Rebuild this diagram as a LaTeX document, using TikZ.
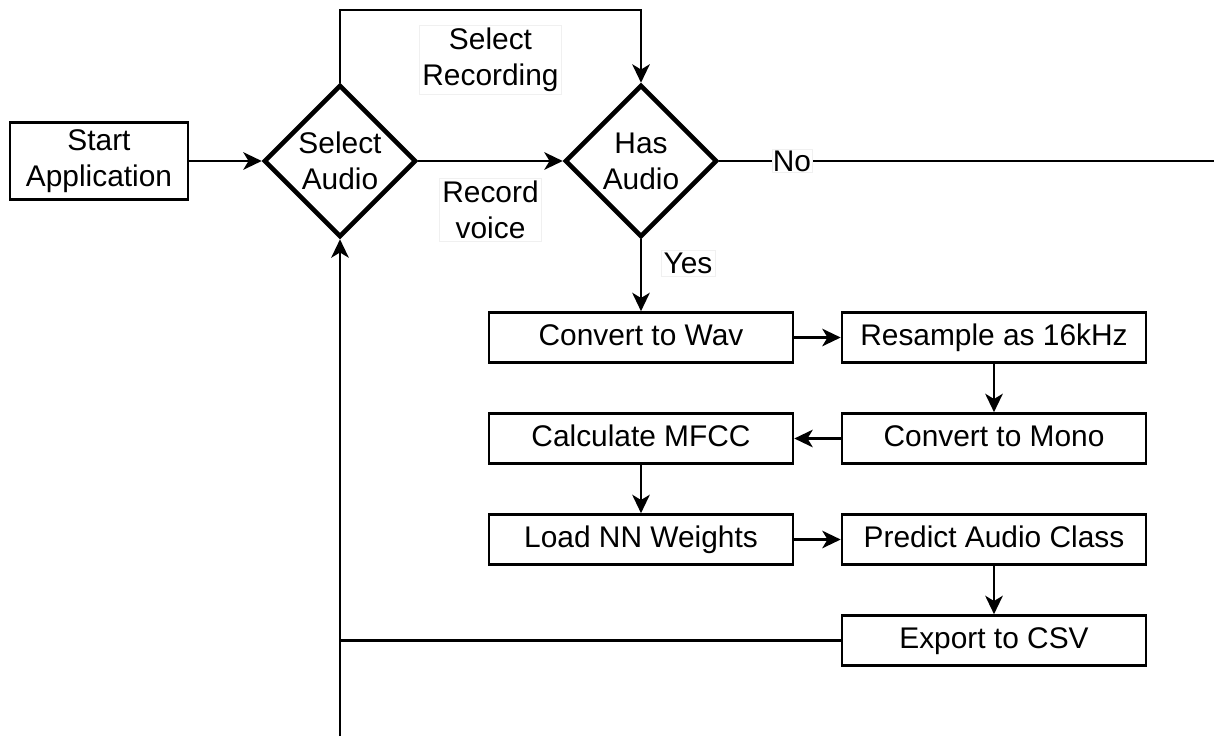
\documentclass[tikz,border=0pt]{standalone}
\usepackage{fontspec}
\setmainfont{Liberation Sans}
\usetikzlibrary{shapes.geometric,positioning,arrows.meta}

\begin{document}
\begin{tikzpicture}[>={Stealth[length=10.5pt,width=10pt,inset=3pt]}, node distance=2.02cm, on grid,
    font=\fontsize{17}{20.4}\selectfont,
    box/.style={draw, line width=1.5pt, minimum width=6.08cm, minimum height=1cm, inner sep=0pt,
      text height=12.2pt, text depth=3.4pt},
    startbox/.style={draw, line width=1.5pt, minimum width=3.56cm, minimum height=1.54cm, inner sep=0pt, align=center},
    decision/.style={diamond, draw, line width=2.6pt, minimum width=3.04cm, minimum height=3.04cm, inner sep=0pt, align=center},
    lbl/.style={fill=white, draw=black!6, line width=0.4pt, inner sep=1.5pt, align=center},
    flow/.style={line width=1.3pt}]

    \useasboundingbox (0,0) rectangle (24.28,-14.72);

    % Knoten
    \node[decision] (selA) at (6.8,-3.22) {Select\\Audio};
    \node[startbox, left=4.82cm of selA] (start) {Start\\Application};
    \node[decision, right=6.02cm of selA] (hasA) {Has\\Audio};
    \node[box, below=3.53cm of hasA] (wav) {Convert to Wav};
    \node[box, right=7.06cm of wav] (resample) {Resample as 16kHz};
    \node[box, below=of resample] (mono) {Convert to Mono};
    \node[box, below=of wav] (mfcc) {Calculate MFCC};
    \node[box, below=of mfcc] (weights) {Load NN Weights};
    \node[box, below=of mono] (predict) {Predict Audio Class};
    \node[box, below=of predict] (export) {Export to CSV};

    % Hilfspunkte
    \coordinate[above=3.02cm of selA] (loopTop);
    \coordinate (noEnd) at (24.28,-3.22);
    \coordinate (backStart) at (6.8,-14.72);

    % Pfeile
    \draw[flow,->] (start) -- (selA);
    \draw[flow,->] (selA.east) -- node[lbl, yshift=-0.98cm] {Record\\voice} (hasA.west);
    \draw[flow,->] (selA.north) -- (loopTop) -| node[lbl, pos=0.25, yshift=-1cm] {Select\\Recording} (hasA.north);
    \draw[flow] (hasA.east) -- node[lbl, pos=0.147, inner sep=0.5pt] {No} (noEnd);
    \draw[flow,->] (hasA.south) -- node[lbl, pos=0.33, xshift=0.94cm] {Yes} (wav.north);
    \draw[flow,->] (wav) -- (resample);
    \draw[flow,->] (resample) -- (mono);
    \draw[flow,->] (mono) -- (mfcc);
    \draw[flow,->] (mfcc) -- (weights);
    \draw[flow,->] (weights) -- (predict);
    \draw[flow,->] (predict) -- (export);
    \draw[flow,->] (backStart) -- (selA.south);
    \draw[flow] (export.west) -- (export.west -| selA.south);

\end{tikzpicture}
\end{document}
